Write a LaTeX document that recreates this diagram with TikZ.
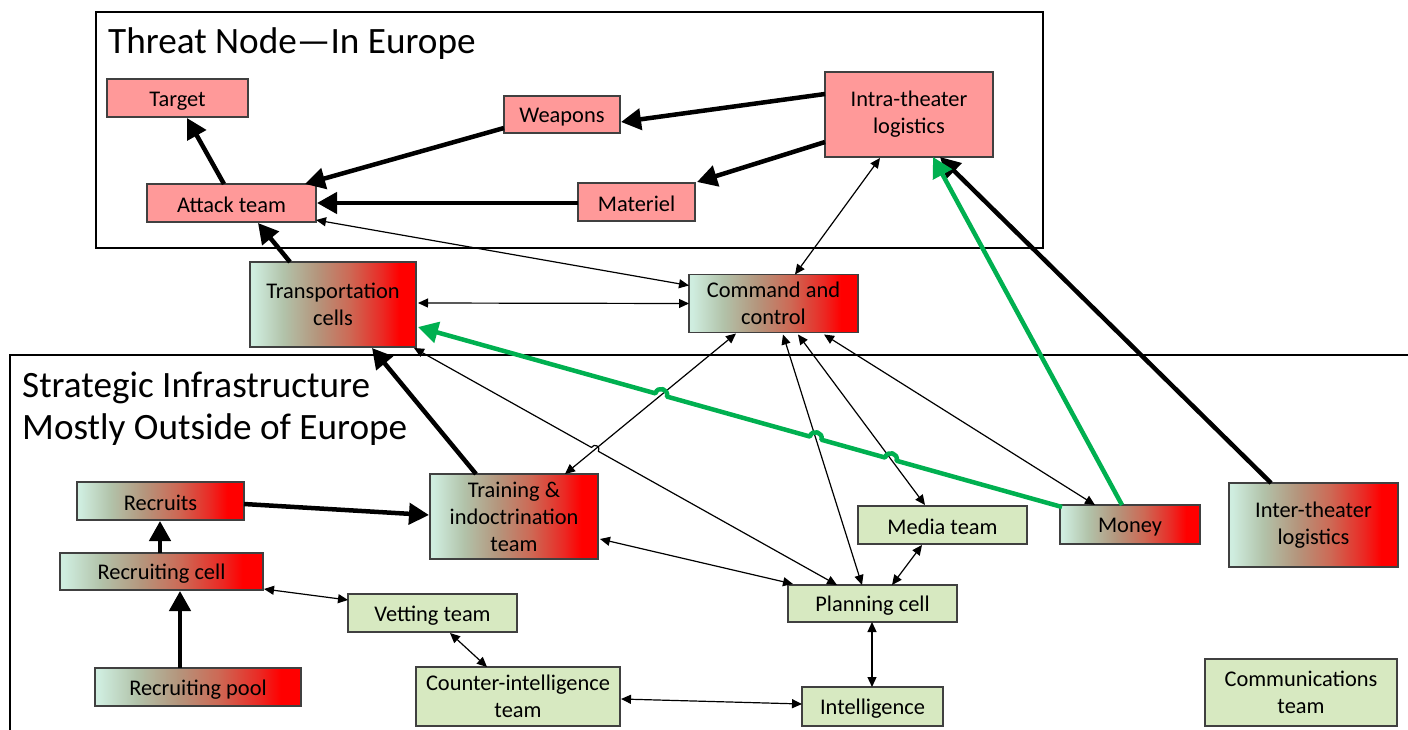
\documentclass[tikz,border=0pt]{standalone}
\usepackage{fontspec}
\setmainfont{Carlito}
\usetikzlibrary{arrows.meta,calc,intersections}
\definecolor{pinkfill}{RGB}{255,153,153}
\definecolor{greenfill}{RGB}{215,233,193}
\definecolor{bordc}{RGB}{64,64,64}
\definecolor{moneygreen}{RGB}{0,176,80}
\definecolor{mintc}{RGB}{207,237,223}
\definecolor{ggc}{RGB}{178,195,170}
\definecolor{brnc}{RGB}{180,150,125}
\definecolor{rdb}{RGB}{205,105,85}
\definecolor{rdc}{RGB}{235,40,35}
\definecolor{purered}{RGB}{255,0,0}
\pgfdeclarehorizontalshading{mintred}{100bp}{color(0bp)=(mintc); color(26bp)=(mintc); color(35bp)=(ggc); color(45bp)=(brnc); color(55bp)=(rdb); color(65bp)=(rdc); color(70bp)=(purered); color(100bp)=(purered)}
\tikzset{
  box/.style={draw=bordc, line width=1.3pt, inner sep=0pt, align=center, font=\fontsize{22.4}{27}\selectfont, execute at begin node={\rule{0pt}{20pt}}},
  pinkbox/.style={box, fill=pinkfill},
  greenbox/.style={box, fill=greenfill},
  gradbox/.style={box, shade, shading=mintred},
  thickarrow/.style={line width=4.5pt, -{Triangle[length=20pt,width=21pt]}},
  moneyarrow/.style={thickarrow, draw=moneygreen, line join=round},
  thinarrow/.style={line width=1.2pt, {Triangle[length=10pt,width=9pt]}-{Triangle[length=10pt,width=9pt]}},
  frame/.style={draw=black, line width=1.2pt},
  title/.style={anchor=base west, inner sep=0pt, font=\fontsize{37.2}{42}\selectfont}
}
\begin{document}
\begin{tikzpicture}[x=1pt,y=-1pt]
\useasboundingbox (0,0) rectangle (1408,730);
\fill[white] (0,0) rectangle (1408,730);
% frames
\draw[frame] (96,12) rectangle (1043,248);
\draw[frame] (1408,355) -- (10,355) -- (10,730);
\node[title] (t1) at (108,54) {Threat Node—In Europe};
\node[title] (t2) at (22,397) {Strategic Infrastructure};
\node[title] (t3) at (22,439) {Mostly Outside of Europe};
% nodes
\node[pinkbox, minimum width=141pt, minimum height=38pt] (tgt) at (177.5,98) {Target};
\node[pinkbox, minimum width=116pt, minimum height=37pt] (wea) at (562,114.5) {Weapons};
\node[pinkbox, minimum width=168pt, minimum height=85pt] (intra) at (909,114.5) {Intra-theater\\logistics};
\node[pinkbox, minimum width=169pt, minimum height=38pt] (att) at (231.5,203) {Attack team};
\node[pinkbox, minimum width=117pt, minimum height=38pt] (mat) at (636.5,202) {Materiel};
\node[gradbox, minimum width=166pt, minimum height=85pt] (trans) at (333,304.5) {Transportation\\cells};
\node[gradbox, minimum width=169pt, minimum height=58pt] (cc) at (773.5,303.5) {Command and\\control};
\node[gradbox, minimum width=167pt, minimum height=38pt] (recruits) at (160.5,501) {Recruits};
\node[gradbox, minimum width=168pt, minimum height=85pt] (train) at (514,516.5) {Training \&\\indoctrination\\team};
\node[gradbox, minimum width=203pt, minimum height=37pt] (rcell) at (161.5,571.5) {Recruiting cell};
\node[gradbox, minimum width=206pt, minimum height=38pt] (rpool) at (198,687) {Recruiting pool};
\node[gradbox, minimum width=140pt, minimum height=39pt] (money) at (1130,524.5) {Money};
\node[gradbox, minimum width=169pt, minimum height=84pt] (inter) at (1313.5,525) {Inter-theater\\logistics};
\node[greenbox, minimum width=169pt, minimum height=38pt] (media) at (942.5,525) {Media team};
\node[greenbox, minimum width=169pt, minimum height=37pt] (plan) at (872.5,603.5) {Planning cell};
\node[greenbox, minimum width=169pt, minimum height=38pt] (vet) at (432.5,613) {Vetting team};
\node[greenbox, minimum width=204pt, minimum height=59pt] (ci) at (518,696.5) {Counter-intelligence\\team};
\node[greenbox, minimum width=141pt, minimum height=39pt] (intel) at (872.5,706.5) {Intelligence};
\node[greenbox, minimum width=192pt, minimum height=67pt] (comm) at (1301,692.5) {Communications\\team};
% thick arrows
\draw[thickarrow] ($(att)+(-7.5,-19)$) -- ($(tgt)+(9.5,20)$);
\draw[thickarrow] ($(wea)+(-58,13.5)$) -- ($(att)+(73.5,-19)$);
\draw[thickarrow] ($(intra)+(-84,-20.5)$) -- ($(wea)+(59,7.5)$);
\draw[thickarrow] ($(intra)+(-84,27.5)$) -- ($(mat)+(60.5,-20)$);
\draw[thickarrow] ($(mat)+(-58.5,1)$) -- ($(att)+(85.5,0)$);
\draw[thickarrow] ($(trans)+(-43,-42.5)$) -- ($(att)+(26.5,20)$);
\draw[thickarrow] ($(train)+(-38,-42.5)$) -- ($(trans)+(39,43.5)$);
\draw[thickarrow] ($(recruits)+(83.5,3)$) -- ($(train)+(-85,-1.5)$);
\draw[thickarrow] ($(rcell)+(-1.5,-18.5)$) -- ($(recruits)+(-0.5,20)$);
\draw[thickarrow] ($(rpool)+(-18,-19)$) -- ($(rcell)+(18.5,19.5)$);
\draw[thickarrow] ($(inter)+(-42.5,-42)$) -- ($(intra)+(31,42.5)$);
% thin double arrows
\draw[thinarrow] ($(att)+(84.5,17)$) -- ($(cc)+(-84.5,-18)$);
\draw[thinarrow] ($(trans)+(85,-1.5)$) -- ($(cc)+(-84.5,0)$);
\draw[thinarrow] ($(intra)+(-29,43.5)$) -- ($(cc)+(21.5,-29)$);
\draw[thinarrow, name path=ctr] ($(cc)+(-37.5,30)$) -- ($(train)+(51,-42.5)$);
\draw[thinarrow, name path=cpl] ($(cc)+(9.5,31)$) -- ($(plan)+(-10.5,-18.5)$);
\draw[thinarrow, name path=cme] ($(cc)+(24.5,31)$) -- ($(media)+(-17.5,-20)$);
\draw[thinarrow] ($(cc)+(50.5,31)$) -- ($(money)+(-35,-19.5)$);
\draw[thinarrow] ($(train)+(86,22.5)$) -- ($(plan)+(-79.5,-19.5)$);
\draw[thinarrow] ($(media)+(-20.5,20)$) -- ($(plan)+(19.5,-18.5)$);
\draw[thinarrow] ($(plan)+(-0.5,18.5)$) -- ($(intel)+(-0.5,-19.5)$);
\draw[thinarrow] ($(ci)+(103,2.5)$) -- ($(intel)+(-70.5,-2.5)$);
\draw[thinarrow] ($(rcell)+(102.5,17.5)$) -- ($(vet)+(-84.5,-13)$);
\draw[thinarrow] ($(vet)+(17.5,20)$) -- ($(ci)+(-31,-29.5)$);
% transportation <-> planning with hop
\coordinate (a21) at ($(trans)+(81,43.5)$);
\coordinate (b21) at ($(plan)+(-35.5,-18.5)$);
\path[name path=p21] (a21) -- (b21);
\path[name intersections={of=p21 and ctr, by=x21}];
\draw[thinarrow] (a21) -- ($(x21)!4pt!(a21)$) to[bend left=90, looseness=1.7] ($(x21)!4pt!(b21)$) -- (b21);
% green arrows
\draw[moneyarrow] ($(money)+(-8,-19.5)$) -- ($(intra)+(24,42.5)$);
\coordinate (g1) at ($(money)+(-68,-17.5)$);
\coordinate (g2) at ($(trans)+(85,22.5)$);
\path[name path=gp] (g1) -- (g2);
\path[name intersections={of=gp and cme, by=h3}];
\path[name intersections={of=gp and cpl, by=h2}];
\path[name intersections={of=gp and ctr, by=h1}];
\draw[moneyarrow] (g1) -- ($(h3)!6pt!(g1)$) to[bend right=90, looseness=1.7] ($(h3)!6pt!(g2)$)
  -- ($(h2)!6pt!(g1)$) to[bend right=90, looseness=1.7] ($(h2)!6pt!(g2)$)
  -- ($(h1)!6pt!(g1)$) to[bend right=90, looseness=1.7] ($(h1)!6pt!(g2)$) -- (g2);
\end{tikzpicture}
\end{document}
